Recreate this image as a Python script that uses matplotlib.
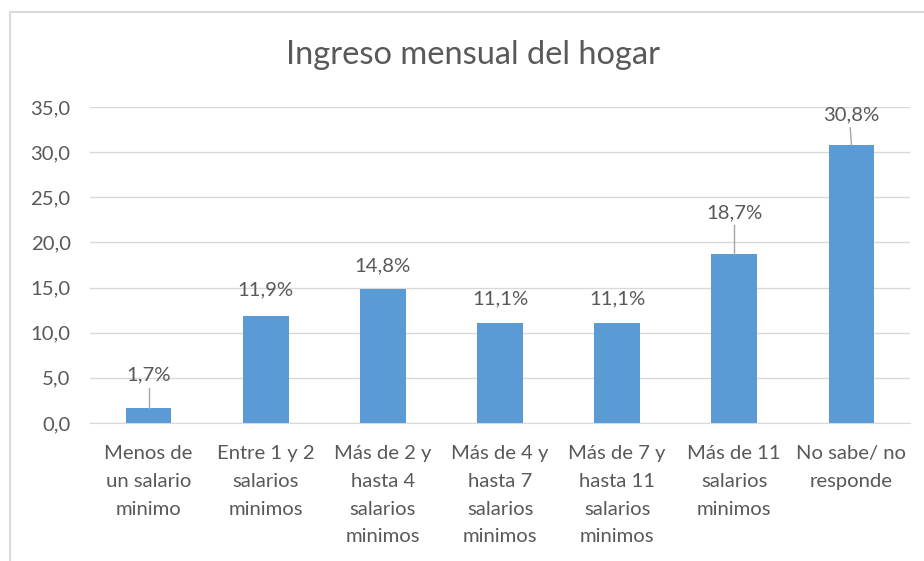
import matplotlib.pyplot as plt
from matplotlib.patches import Rectangle

plt.rcParams['font.family'] = ['Lato', 'DejaVu Sans']

categorias = ['Menos de\nun salario\nminimo', 'Entre 1 y 2\nsalarios\nminimos',
              'Más de 2 y\nhasta 4\nsalarios\nminimos', 'Más de 4 y\nhasta 7\nsalarios\nminimos',
              'Más de 7 y\nhasta 11\nsalarios\nminimos', 'Más de 11\nsalarios\nminimos',
              'No sabe/ no\nresponde']
valores = [1.7, 11.9, 14.8, 11.1, 11.1, 18.7, 30.8]
etiquetas = ['1,7%', '11,9%', '14,8%', '11,1%', '11,1%', '18,7%', '30,8%']
# offset of label above bar top (data units); leader line drawn when large
desfase = [3.6, 2.9, 2.6, 2.6, 2.6, 4.6, 3.3]
con_linea = [True, False, False, False, False, True, True]
yticks = [0, 5, 10, 15, 20, 25, 30, 35]

gris = '#595959'
azul = '#5B9BD5'
fs = 14.6

fig = plt.figure(figsize=(9.24, 5.61), dpi=100)
ax = fig.add_axes([90/924, 1 - 423/561, 820/924, (423-107)/561])

x = range(len(valores))
ax.bar(x, valores, width=0.39, color=azul, zorder=3)
ax.set_xlim(-0.5, len(valores) - 0.5)
ax.set_ylim(0, 35)
ax.set_yticks(yticks)
ax.set_yticklabels([f'{v:.1f}'.replace('.', ',') for v in yticks], color=gris, fontsize=fs)
ax.set_xticks(list(x))
ax.set_xticklabels(categorias, color=gris, fontsize=fs, linespacing=1.76, va='top')
ax.tick_params(length=0, pad=14)
ax.tick_params(axis='x', pad=16)
ax.grid(axis='y', color='#D9D9D9', linewidth=1, zorder=0)
for s in ax.spines.values():
    s.set_visible(False)
ax.spines['bottom'].set_visible(True)
ax.spines['bottom'].set_color('#D9D9D9')

for i, (v, t, d, ln) in enumerate(zip(valores, etiquetas, desfase, con_linea)):
    ax.text(i, v + d, t, ha='center', va='center', color=gris, fontsize=fs)
    if ln:
        ax.plot([i - 0.01 if i == 6 else i, i], [v + d - 1.4, v], color='#A6A6A6', lw=1, zorder=4)

fig.text(473/924, 1 - 55/561, 'Ingreso mensual del hogar', ha='center', va='center',
         color=gris, fontsize=23.5)

# outer chart frame
fig.patches.append(Rectangle((10/924, -0.1), 1.1, 1.1 - 12/561, transform=fig.transFigure,
                             fill=False, edgecolor='#D9D9D9', lw=1.5))

fig.savefig('out.png', dpi=100)
